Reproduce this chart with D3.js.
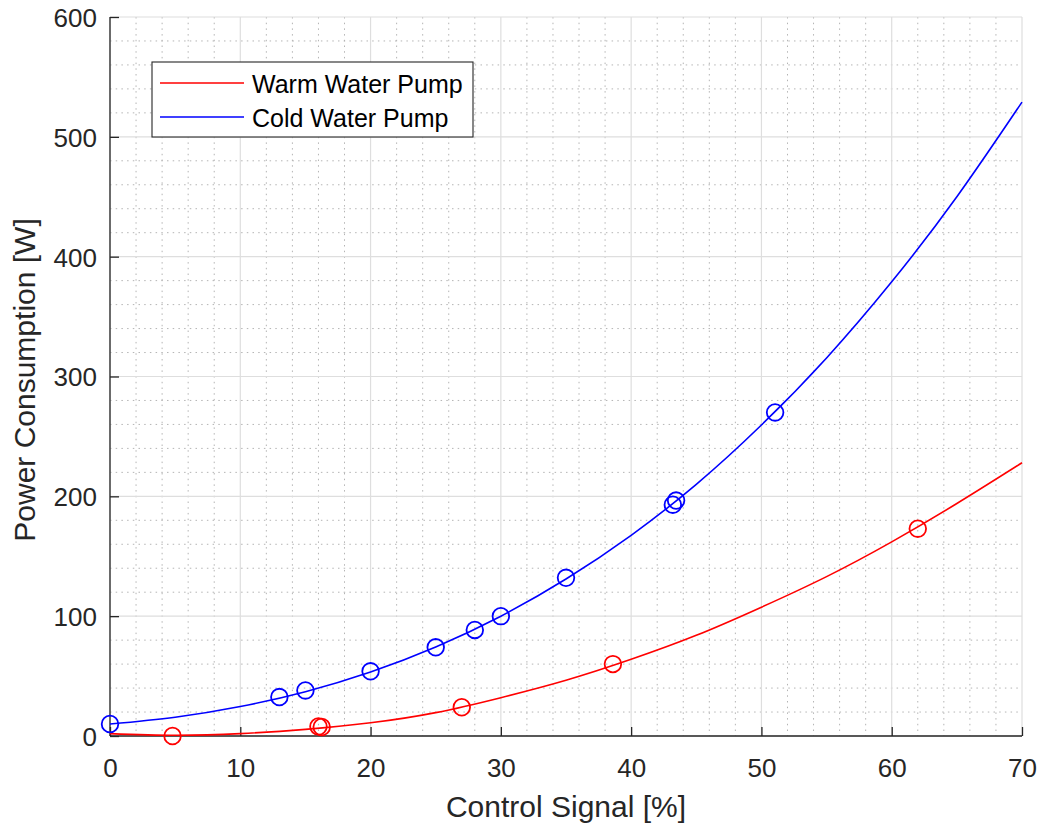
<!DOCTYPE html>
<html>
<head>
<meta charset="utf-8">
<script src="https://cdn.jsdelivr.net/npm/d3@7"></script>
<style>
  html, body { margin: 0; padding: 0; background: #fff; }
  svg { display: block; font-family: "Liberation Sans", Arial, Helvetica, sans-serif; }
</style>
</head>
<body>
<svg id="chart" width="1042" height="828"></svg>
<script>
// ---- data ----
const seriesNames = ["Warm Water Pump", "Cold Water Pump"];
const seriesColors = ["#ff0000", "#0000ff"];

// measured points (circles)
const warmX = [4.8, 16.0, 16.25, 27.0, 38.6, 62.0];
const warmY = [0.0, 8.0, 7.5, 24.0, 60.0, 173.0];
const coldX = [0, 13.0, 15.0, 20.0, 25.0, 28.0, 30.0, 35.0, 43.2, 43.45, 51.05];
const coldY = [10, 32.5, 38, 54, 74, 88.5, 100, 132, 193, 196.5, 270];

// fitted curves, every 5 %
const fitX = [0, 5, 10, 15, 20, 25, 30, 35, 40, 45, 50, 55, 60, 65, 70];
const warmFit = [2, 0.6, 2, 5.5, 11, 19.5, 32, 46.5, 64, 84, 107.5, 133, 162, 194, 228];
const coldFit = [10, 15.7, 24.6, 37, 53.4, 74.3, 100, 131, 167.5, 210, 259.5, 315.5, 379, 450, 529];

const xTicks = [0, 10, 20, 30, 40, 50, 60, 70];
const yTicks = [0, 100, 200, 300, 400, 500, 600];
const xMinor = d3.range(0, 70.001, 2);
const yMinor = d3.range(0, 600.001, 20);

// ---- layout ----
const svg = d3.select("#chart");
const L = 110, R = 1022, T = 17, B = 736;
const x = d3.scaleLinear().domain([0, 70]).range([L, R]);
const y = d3.scaleLinear().domain([0, 600]).range([B, T]);
const axisColor = "#262626";
const font = 26;

// minor grid (dotted)
const g = svg.append("g");
g.selectAll(".mx").data(xMinor.filter(v => v % 10 !== 0)).enter().append("line")
  .attr("x1", d => x(d)).attr("x2", d => x(d)).attr("y1", T).attr("y2", B)
  .attr("stroke", "#b4b4b4").attr("stroke-width", 1).attr("stroke-dasharray", "1.5,4.2");
g.selectAll(".my").data(yMinor.filter(v => v % 100 !== 0)).enter().append("line")
  .attr("y1", d => y(d)).attr("y2", d => y(d)).attr("x1", L).attr("x2", R)
  .attr("stroke", "#b4b4b4").attr("stroke-width", 1).attr("stroke-dasharray", "1.5,4.2");
// major grid
g.selectAll(".gx").data(xTicks).enter().append("line")
  .attr("x1", d => x(d)).attr("x2", d => x(d)).attr("y1", T).attr("y2", B)
  .attr("stroke", "#dedede").attr("stroke-width", 1.2);
g.selectAll(".gy").data(yTicks).enter().append("line")
  .attr("y1", d => y(d)).attr("y2", d => y(d)).attr("x1", L).attr("x2", R)
  .attr("stroke", "#dedede").attr("stroke-width", 1.2);

// axes (ticks inside)
const xAxis = d3.axisBottom(x).tickValues(xTicks).tickSize(-9).tickPadding(0).tickFormat(d3.format("d"));
const yAxis = d3.axisLeft(y).tickValues(yTicks).tickSize(-9).tickPadding(0).tickFormat(d3.format("d"));

const gx = svg.append("g").attr("transform", `translate(0,${B})`).call(xAxis);
const gy = svg.append("g").attr("transform", `translate(${L},0)`).call(yAxis);
[gx, gy].forEach(a => {
  a.select(".domain").attr("stroke", axisColor).attr("stroke-width", 1.3);
  a.selectAll(".tick line").attr("stroke", axisColor).attr("stroke-width", 1.3);
  a.selectAll(".tick text").attr("fill", axisColor).attr("font-size", font)
    .attr("font-family", '"Liberation Sans", Arial, Helvetica, sans-serif');
});
gx.selectAll(".tick text").attr("y", 0).attr("dy", 0).attr("transform", "translate(0,41)");
gy.selectAll(".tick text").attr("x", -13).attr("dy", "0.36em");
// remove domain end caps beyond range (d3 domain path with outer ticks)
gx.select(".domain").attr("d", `M${L},0H${R}`);
gy.select(".domain").attr("d", `M0,${B}V${T}`);

// axis labels
svg.append("text").attr("x", (L + R) / 2).attr("y", 817).attr("text-anchor", "middle")
  .attr("font-size", 30).attr("fill", axisColor).text("Control Signal [%]");
svg.append("text").attr("transform", "translate(35,380) rotate(-90)").attr("text-anchor", "middle")
  .attr("font-size", 30).attr("fill", axisColor).text("Power Consumption [W]");

// curves
const line = d3.line().x(d => x(d[0])).y(d => y(d[1])).curve(d3.curveNatural);
const plot = svg.append("g");
plot.append("path").datum(fitX.map((v, i) => [v, warmFit[i]]))
  .attr("d", line).attr("fill", "none").attr("stroke", seriesColors[0]).attr("stroke-width", 1.6);
plot.append("path").datum(fitX.map((v, i) => [v, coldFit[i]]))
  .attr("d", line).attr("fill", "none").attr("stroke", seriesColors[1]).attr("stroke-width", 1.6);

// markers
plot.selectAll(".wm").data(warmX.map((v, i) => [v, warmY[i]])).enter().append("circle")
  .attr("cx", d => x(d[0])).attr("cy", d => y(d[1])).attr("r", 8.3)
  .attr("fill", "none").attr("stroke", seriesColors[0]).attr("stroke-width", 1.8);
plot.selectAll(".cm").data(coldX.map((v, i) => [v, coldY[i]])).enter().append("circle")
  .attr("cx", d => x(d[0])).attr("cy", d => y(d[1])).attr("r", 8.3)
  .attr("fill", "none").attr("stroke", seriesColors[1]).attr("stroke-width", 1.8);

// legend
const lg = svg.append("g");
lg.append("rect").attr("x", 152).attr("y", 62).attr("width", 321).attr("height", 75)
  .attr("fill", "#fff").attr("stroke", axisColor).attr("stroke-width", 1.1);
seriesNames.forEach((name, i) => {
  const cy = 83 + i * 34;
  lg.append("line").attr("x1", 160).attr("x2", 244).attr("y1", cy).attr("y2", cy)
    .attr("stroke", seriesColors[i]).attr("stroke-width", 1.6);
  lg.append("text").attr("x", 252).attr("y", cy + 9.5).attr("font-size", 25)
    .attr("fill", "#000").text(name);
});
</script>
</body>
</html>
